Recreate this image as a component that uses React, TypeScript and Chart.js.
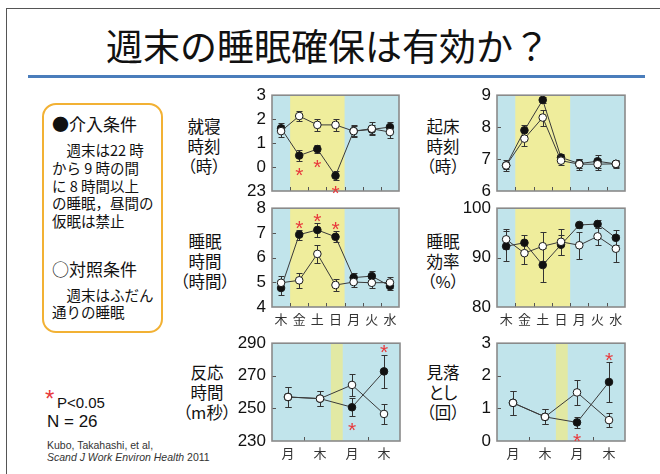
import React, { useEffect, useRef } from 'react';
import { Chart, registerables } from 'chart.js';

Chart.register(...registerables);

// ---- categories ----
const weekDays = ['木', '金', '土', '日', '月', '火', '水'];
const testDays = ['月', '木', '月', '木'];

// ---- 就寝時刻 (時; -1 = 23時) ----
const bedtimeTicks = ['23', '0', '1', '2', '3'];
const bedtimeIntervention = [1.62, 0.48, 0.75, -0.36, 1.5, 1.57, 1.67];
const bedtimeInterventionErr = [0.2, 0.22, 0.15, 0.19, 0.22, 0.2, 0.2];
const bedtimeControl = [1.5, 2.13, 1.76, 1.76, 1.5, 1.6, 1.46];
const bedtimeControlErr = [0.24, 0.2, 0.25, 0.24, 0.24, 0.27, 0.25];
const bedtimeStarIdx = [1, 2, 3];
const bedtimeStarVal = [-0.12, 0.22, -0.86];

// ---- 睡眠時間 (時間) ----
const durationIntervention = [4.77, 6.93, 7.12, 6.84, 5.19, 5.25, 4.85];
const durationInterventionErr = [0.27, 0.2, 0.28, 0.22, 0.2, 0.2, 0.15];
const durationControl = [4.98, 5.08, 6.15, 4.89, 5.01, 4.98, 4.99];
const durationControlErr = [0.27, 0.31, 0.37, 0.23, 0.22, 0.2, 0.22];
const durationStarIdx = [1, 2, 3];
const durationStarVal = [7.38, 7.68, 7.35];

// ---- 起床時刻 (時) ----
const wakeIntervention = [6.8, 7.9, 8.85, 7.05, 6.86, 6.93, 6.85];
const wakeInterventionErr = [0.12, 0.17, 0.08, 0.1, 0.15, 0.2, 0.1];
const wakeControl = [6.8, 7.64, 8.3, 6.95, 6.84, 6.84, 6.85];
const wakeControlErr = [0.16, 0.24, 0.25, 0.15, 0.17, 0.17, 0.12];

// ---- 睡眠効率 (%) ----
const efficiencyIntervention = [92.3, 93.0, 88.5, 92.6, 96.6, 96.8, 94.0];
const efficiencyInterventionErr = [3.0, 1.6, 3.5, 2.0, 0.7, 0.9, 1.5];
const efficiencyControl = [93.7, 90.9, 92.3, 93.2, 92.5, 94.3, 91.8];
const efficiencyControlErr = [2.0, 2.2, 2.9, 2.6, 2.7, 1.7, 2.7];

// ---- 反応時間 (m秒) ----
const reactionIntervention = [257, 256, 250.7, 272.7];
const reactionInterventionErr = [6, 4.8, 5.5, 10.2];
const reactionControl = [257, 256, 264.4, 246.6];
const reactionControlErr = [6, 4.8, 6.8, 6.2];
const reactionStarIdx = [3, 2];
const reactionStarVal = [287.5, 240];

// ---- 見落とし (回) ----
const missIntervention = [1.17, 0.74, 0.57, 1.81];
const missInterventionErr = [0.37, 0.23, 0.17, 0.61];
const missControl = [1.17, 0.74, 1.49, 0.64];
const missControlErr = [0.37, 0.23, 0.38, 0.22];
const missStarIdx = [3, 2];
const missStarVal = [2.65, 0.15];

const NUM_FONT = "'Liberation Sans Narrow', 'Liberation Sans', Arial, sans-serif";
const JP_FONT = "'Noto Sans CJK JP', 'Noto Sans', sans-serif";
const PLOT_BG = '#c1e4eb';

// background, weekend band, inward ticks, error bars, frame and significance marks
const panelPlugin = {
  id: 'panel',
  beforeDatasetsDraw(chart: any, _args: any, opts: any) {
    const { ctx, chartArea: a, scales } = chart;
    const x = scales.x;
    const y = scales.y;
    ctx.save();
    ctx.fillStyle = PLOT_BG;
    ctx.fillRect(a.left, a.top, a.right - a.left, a.bottom - a.top);
    const b0 = x.getPixelForValue(opts.band[0]);
    const b1 = x.getPixelForValue(opts.band[1]);
    ctx.fillStyle = opts.bandColor;
    ctx.fillRect(b0, a.top, b1 - b0, a.bottom - a.top);

    ctx.strokeStyle = '#555';
    ctx.lineWidth = 1;
    ctx.beginPath();
    y.ticks.forEach((t: any) => {
      if (t.value > y.min && t.value < y.max) {
        const py = Math.round(y.getPixelForValue(t.value)) + 0.5;
        ctx.moveTo(a.left, py);
        ctx.lineTo(a.left + 4, py);
      }
    });
    opts.xMarks.forEach((v: number) => {
      const px = Math.round(x.getPixelForValue(v)) + 0.5;
      ctx.moveTo(px, a.bottom);
      ctx.lineTo(px, a.bottom - 4);
    });
    ctx.stroke();

    ctx.strokeStyle = '#333';
    ctx.lineWidth = 1;
    chart.data.datasets.forEach((ds: any) => {
      ds.data.forEach((v: number, j: number) => {
        const e = ds.errors[j];
        if (!e) return;
        const px = Math.round(x.getPixelForValue(j)) + 0.5;
        const hi = Math.round(y.getPixelForValue(v + e)) + 0.5;
        const lo = Math.round(y.getPixelForValue(v - e)) + 0.5;
        ctx.beginPath();
        ctx.moveTo(px, hi);
        ctx.lineTo(px, lo);
        ctx.moveTo(px - 3, hi);
        ctx.lineTo(px + 3, hi);
        ctx.moveTo(px - 3, lo);
        ctx.lineTo(px + 3, lo);
        ctx.stroke();
      });
    });
    ctx.restore();
  },
  afterDatasetsDraw(chart: any, _args: any, opts: any) {
    const { ctx, chartArea: a, scales } = chart;
    ctx.save();
    ctx.strokeStyle = '#8a8a8a';
    ctx.lineWidth = 1.6;
    ctx.strokeRect(a.left, a.top, a.right - a.left, a.bottom - a.top);
    ctx.fillStyle = '#e8393c';
    ctx.font = `21px 'Liberation Sans', Arial, sans-serif`;
    ctx.textAlign = 'center';
    ctx.textBaseline = 'alphabetic';
    opts.starIdx.forEach((idx: number, k: number) => {
      const px = scales.x.getPixelForValue(idx);
      const py = scales.y.getPixelForValue(opts.starVal[k]);
      ctx.fillText('*', px, py + 0.57 * 21);
    });
    ctx.restore();
  },
};

type Rect = { left: number; top: number; width: number; height: number };

type PanelProps = {
  rect: Rect;
  labels: string[];
  showLabels: boolean;
  intervention: number[];
  interventionErr: number[];
  control: number[];
  controlErr: number[];
  yMin: number;
  yMax: number;
  yStep: number;
  tickText?: (v: number) => string;
  band: [number, number];
  bandColor: string;
  xMarks: number[];
  starIdx: number[];
  starVal: number[];
};

const PAD_L = 52;
const PAD_T = 14;
const PAD_R = 8;
const PAD_B = 26;

function Panel(p: PanelProps) {
  const ref = useRef<HTMLCanvasElement>(null);
  const w = p.rect.width + PAD_L + PAD_R;
  const h = p.rect.height + PAD_T + PAD_B;

  useEffect(() => {
    if (!ref.current) return;
    const pointCommon = {
      borderColor: '#3a3a3a',
      borderWidth: 1,
      pointRadius: 3.8,
      pointBorderWidth: 1,
      pointBorderColor: '#1a1a1a',
      tension: 0,
    };
    const chart = new Chart(ref.current, {
      type: 'line',
      data: {
        labels: p.labels,
        datasets: [
          {
            ...pointCommon,
            label: '介入条件',
            data: p.intervention,
            errors: p.interventionErr,
            pointBackgroundColor: '#111',
            order: 2,
          } as any,
          {
            ...pointCommon,
            label: '対照条件',
            data: p.control,
            errors: p.controlErr,
            pointBackgroundColor: '#fff',
            order: 1,
          } as any,
        ],
      },
      options: {
        animation: false,
        responsive: false,
        devicePixelRatio: 1,
        layout: { padding: { left: 0, top: PAD_T, right: PAD_R, bottom: 0 } },
        plugins: {
          legend: { display: false },
          tooltip: { enabled: false },
          panel: {
            band: p.band,
            bandColor: p.bandColor,
            xMarks: p.xMarks,
            starIdx: p.starIdx,
            starVal: p.starVal,
          },
        } as any,
        scales: {
          x: {
            type: 'category',
            offset: true,
            grid: { display: false, drawTicks: false },
            border: { display: false },
            ticks: {
              display: p.showLabels,
              autoSkip: false,
              maxRotation: 0,
              padding: 4,
              color: '#333',
              font: { family: JP_FONT, size: 13 },
            },
            afterFit: (s: any) => {
              s.height = PAD_B;
            },
          },
          y: {
            type: 'linear',
            min: p.yMin,
            max: p.yMax,
            grid: { display: false, drawTicks: false },
            border: { display: false },
            ticks: {
              stepSize: p.yStep,
              autoSkip: false,
              padding: 6,
              color: '#111',
              font: { family: NUM_FONT, size: 17 },
              callback: (v: any) => (p.tickText ? p.tickText(Number(v)) : String(v)),
            },
            afterFit: (s: any) => {
              s.width = PAD_L;
            },
          },
        },
      },
      plugins: [panelPlugin],
    });
    return () => chart.destroy();
  }, []);

  return (
    <canvas
      ref={ref}
      width={w}
      height={h}
      style={{
        position: 'absolute',
        left: p.rect.left - PAD_L,
        top: p.rect.top - PAD_T,
        width: w,
        height: h,
      }}
    />
  );
}

function Text(props: {
  x: number;
  cy: number;
  size: number;
  children: React.ReactNode;
  font?: string;
  color?: string;
  lh?: number;
}) {
  const lh = props.lh ?? Math.round(props.size * 1.3);
  return (
    <div
      style={{
        position: 'absolute',
        left: props.x,
        top: props.cy - lh / 2 - (props.font ? 0 : 1),
        fontSize: props.size,
        lineHeight: `${lh}px`,
        fontFamily: props.font ?? JP_FONT,
        color: props.color ?? '#111',
        whiteSpace: 'pre',
      }}
    >
      {props.children}
    </div>
  );
}

function AxisTitle(props: { cx: number; cy: number; lines: string[] }) {
  return (
    <div
      style={{
        position: 'absolute',
        left: props.cx - 40,
        top: props.cy - 10 - 1,
        width: 80,
        textAlign: 'center',
        fontFamily: JP_FONT,
        fontSize: 16.5,
        lineHeight: '20px',
        color: '#111',
        fontFeatureSettings: '"palt"',
      }}
    >
      {props.lines.map((l, i) => (
        <div key={i}>{l}</div>
      ))}
    </div>
  );
}

const SANS = "'Liberation Sans', Arial, sans-serif";

export default function App() {
  const weekBand: [number, number] = [0.5, 3.5];
  const weekMarks = [0.5, 1.5, 2.5, 3.5, 4.5, 5.5];
  const testBand: [number, number] = [1.34, 1.71];
  const testMarks = [0.5, 2.5];
  const yellow = '#efed9c';
  const paleYellow = '#e2e9a4';

  return (
    <div
      style={{
        position: 'absolute',
        left: 0,
        top: 0,
        width: 660,
        height: 474,
        background: '#fff',
        overflow: 'hidden',
      }}
    >
      {/* slide frame */}
      <div
        style={{
          position: 'absolute',
          left: 6,
          top: 8,
          width: 700,
          height: 500,
          borderLeft: '1px solid #555',
          borderTop: '1px solid #555',
        }}
      />
      <div
        style={{
          position: 'absolute',
          left: 0,
          top: 23,
          width: 656,
          textAlign: 'center',
          fontFamily: JP_FONT,
          fontSize: 37,
          lineHeight: '44px',
          color: '#111',
          whiteSpace: 'nowrap',
        }}
      >
        週末の睡眠確保は有効か？
      </div>
      <div
        style={{
          position: 'absolute',
          left: 28,
          top: 75,
          width: 617,
          height: 2.5,
          background: '#4a7dbb',
        }}
      />

      {/* conditions box */}
      <div
        style={{
          position: 'absolute',
          left: 42,
          top: 103,
          width: 121,
          height: 230,
          border: '2px solid #f2b134',
          borderRadius: 14,
          boxSizing: 'border-box',
        }}
      />
      <Text x={52} cy={125} size={17}>●介入条件</Text>
      <Text x={52} cy={150} size={14.5}>{'　週末は22 時'}</Text>
      <Text x={52} cy={168} size={14.5}>から 9 時の間</Text>
      <Text x={52} cy={186} size={14.5}>に 8 時間以上</Text>
      <Text x={52} cy={203} size={14.5}>の睡眠，昼間の</Text>
      <Text x={52} cy={221} size={14.5}>仮眠は禁止</Text>
      <Text x={52} cy={270} size={17}>○対照条件</Text>
      <Text x={52} cy={295} size={14.5}>{'　週末はふだん'}</Text>
      <Text x={52} cy={312} size={14.5}>通りの睡眠</Text>

      {/* notes */}
      <Text x={45} cy={398} size={24} font={SANS} color="#e8393c">*</Text>
      <Text x={57} cy={403} size={15} font={SANS}>P&lt;0.05</Text>
      <Text x={47} cy={422} size={17} font={SANS}>N = 26</Text>
      <Text x={47} cy={445} size={10.5} font={SANS} color="#333">Kubo, Takahashi, et al,</Text>
      <Text x={47} cy={457} size={10.5} font={SANS} color="#333">
        <i>Scand J Work Environ Health</i> 2011
      </Text>

      {/* axis titles */}
      <AxisTitle cx={204} cy={127} lines={['就寝', '時刻', '（時）']} />
      <AxisTitle cx={205} cy={242} lines={['睡眠', '時間', '（時間）']} />
      <AxisTitle cx={443} cy={127} lines={['起床', '時刻', '（時）']} />
      <AxisTitle cx={443} cy={242} lines={['睡眠', '効率', '（%）']} />
      <AxisTitle cx={207} cy={373} lines={['反応', '時間', '（m秒）']} />
      <AxisTitle cx={443} cy={373} lines={['見落', 'とし', '（回）']} />

      <Panel
        rect={{ left: 272, top: 93, width: 127, height: 98 }}
        labels={weekDays}
        showLabels={false}
        intervention={bedtimeIntervention}
        interventionErr={bedtimeInterventionErr}
        control={bedtimeControl}
        controlErr={bedtimeControlErr}
        yMin={-1}
        yMax={3}
        yStep={1}
        tickText={(v) => bedtimeTicks[v + 1] ?? ''}
        band={weekBand}
        bandColor={yellow}
        xMarks={weekMarks}
        starIdx={bedtimeStarIdx}
        starVal={bedtimeStarVal}
      />
      <Panel
        rect={{ left: 272, top: 206, width: 127, height: 101 }}
        labels={weekDays}
        showLabels={true}
        intervention={durationIntervention}
        interventionErr={durationInterventionErr}
        control={durationControl}
        controlErr={durationControlErr}
        yMin={4}
        yMax={8}
        yStep={1}
        band={weekBand}
        bandColor={yellow}
        xMarks={weekMarks}
        starIdx={durationStarIdx}
        starVal={durationStarVal}
      />
      <Panel
        rect={{ left: 497, top: 93, width: 128, height: 98 }}
        labels={weekDays}
        showLabels={false}
        intervention={wakeIntervention}
        interventionErr={wakeInterventionErr}
        control={wakeControl}
        controlErr={wakeControlErr}
        yMin={6}
        yMax={9}
        yStep={1}
        band={weekBand}
        bandColor={yellow}
        xMarks={weekMarks}
        starIdx={[]}
        starVal={[]}
      />
      <Panel
        rect={{ left: 497, top: 206, width: 128, height: 101 }}
        labels={weekDays}
        showLabels={true}
        intervention={efficiencyIntervention}
        interventionErr={efficiencyInterventionErr}
        control={efficiencyControl}
        controlErr={efficiencyControlErr}
        yMin={80}
        yMax={100}
        yStep={10}
        band={weekBand}
        bandColor={yellow}
        xMarks={weekMarks}
        starIdx={[]}
        starVal={[]}
      />
      <Panel
        rect={{ left: 272, top: 341, width: 128, height: 100 }}
        labels={testDays}
        showLabels={true}
        intervention={reactionIntervention}
        interventionErr={reactionInterventionErr}
        control={reactionControl}
        controlErr={reactionControlErr}
        yMin={230}
        yMax={290}
        yStep={20}
        band={testBand}
        bandColor={paleYellow}
        xMarks={testMarks}
        starIdx={reactionStarIdx}
        starVal={reactionStarVal}
      />
      <Panel
        rect={{ left: 497, top: 341, width: 128, height: 100 }}
        labels={testDays}
        showLabels={true}
        intervention={missIntervention}
        interventionErr={missInterventionErr}
        control={missControl}
        controlErr={missControlErr}
        yMin={0}
        yMax={3}
        yStep={1}
        band={testBand}
        bandColor={paleYellow}
        xMarks={testMarks}
        starIdx={missStarIdx}
        starVal={missStarVal}
      />
    </div>
  );
}
